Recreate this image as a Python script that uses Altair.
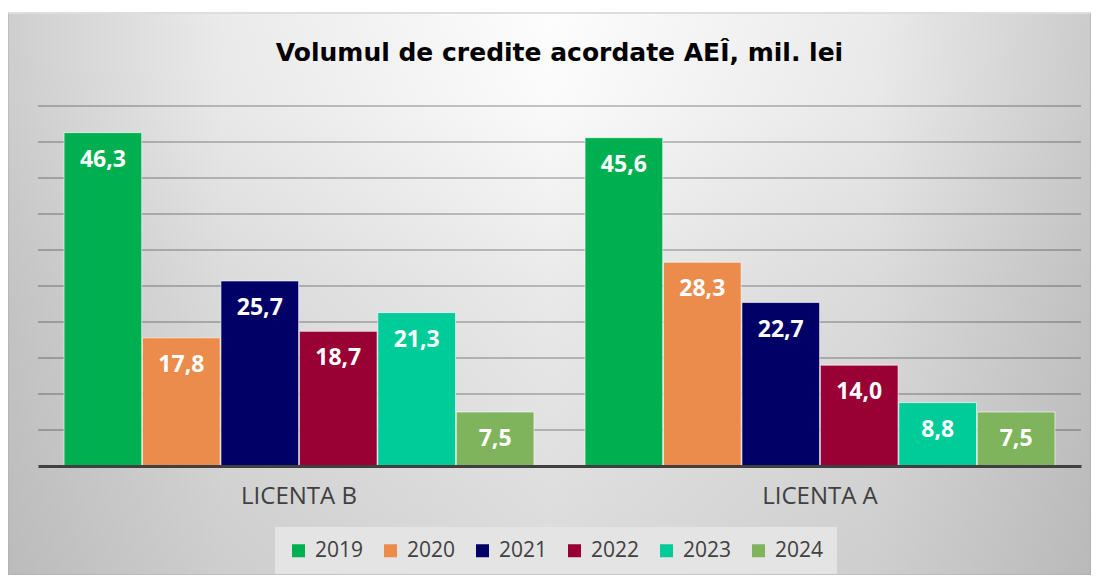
import altair as alt
import pandas as pd

categories = ["LICENTA B", "LICENTA A"]
years = ["2019", "2020", "2021", "2022", "2023", "2024"]
licenta_b = [46.3, 17.8, 25.7, 18.7, 21.3, 7.5]
licenta_a = [45.6, 28.3, 22.7, 14.0, 8.8, 7.5]
colors = ["#00B050", "#EB8C4C", "#000066", "#990033", "#00CC99", "#80B45C"]
grid_values = [5, 10, 15, 20, 25, 30, 35, 40, 45, 50]
title_text = "Volumul de credite acordate AEÎ, mil. lei"

rows = []
for cat, vals in zip(categories, [licenta_b, licenta_a]):
    for yr, v in zip(years, vals):
        rows.append({"cat": cat, "year": yr, "value": v,
                     "label": f"{v:.1f}".replace(".", ",")})
df = pd.DataFrame(rows)

W, H = 1043, 360
FONT = "Open Sans"

one = pd.DataFrame({"a": [0]})

bg_vertical = alt.Chart(one).mark_rect(
    fill={"gradient": "linear", "x1": 0, "y1": 0, "x2": 0, "y2": 1,
          "stops": [{"offset": 0, "color": "#fdfdfd"},
                    {"offset": 0.15, "color": "#fbfbfb"},
                    {"offset": 0.5, "color": "#e9e9e9"},
                    {"offset": 1, "color": "#dadada"}]},
    stroke="#bdbdbd", strokeWidth=1,
).encode(x=alt.value(-30), x2=alt.value(W + 10), y=alt.value(-93), y2=alt.value(H + 109))

bg_horizontal = alt.Chart(one).mark_rect(
    fill={"gradient": "linear", "x1": 0, "y1": 0, "x2": 1, "y2": 0,
          "stops": [{"offset": 0, "color": "rgba(150,150,150,0.45)"},
                    {"offset": 0.2, "color": "rgba(150,150,150,0.18)"},
                    {"offset": 0.5, "color": "rgba(150,150,150,0.0)"},
                    {"offset": 0.8, "color": "rgba(150,150,150,0.18)"},
                    {"offset": 1, "color": "rgba(150,150,150,0.48)"}]},
).encode(x=alt.value(-30), x2=alt.value(W + 10), y=alt.value(-92), y2=alt.value(H + 109))

yscale = alt.Scale(domain=[0, 50])

grid = alt.Chart(pd.DataFrame({"v": grid_values})).mark_rule(
    color="#000000", strokeOpacity=0.22, strokeWidth=2
).encode(y=alt.Y("v:Q", scale=yscale, axis=None))

xenc = alt.X("cat:N", sort=categories,
             scale=alt.Scale(paddingInner=0.098, paddingOuter=0.05),
             axis=alt.Axis(title=None, labelAngle=0, ticks=False, grid=False,
                           labelFontSize=24, labelColor="#404040", labelFont=FONT,
                           labelPadding=18, domainColor="#404040", domainWidth=3,
                           zindex=1))
xoff = alt.XOffset("year:N", sort=years, scale=alt.Scale(paddingInner=0.01))

bars = alt.Chart(df).mark_bar(
    stroke="#ffffff", strokeWidth=1, strokeOpacity=0.6
).encode(
    x=xenc,
    xOffset=xoff,
    y=alt.Y("value:Q", scale=yscale, axis=None),
    color=alt.Color("year:N", sort=years,
                    scale=alt.Scale(domain=years, range=colors),
                    legend=alt.Legend(title=None, orient="none", legendX=237, legendY=421,
                                      direction="horizontal", fillColor="#e4e4e4",
                                      padding=13, symbolType="square", symbolSize=169,
                                      symbolStrokeWidth=0, labelFontSize=21,
                                      labelColor="#404040", labelFont=FONT,
                                      columnPadding=16, labelOffset=6)),
)

labels = alt.Chart(df).mark_text(
    color="white", fontSize=23, fontWeight="bold", font=FONT,
    baseline="middle", align="center", dy=27
).encode(
    x=alt.X("cat:N", sort=categories),
    xOffset=xoff,
    y=alt.Y("value:Q", scale=yscale),
    text="label:N",
)

chart = alt.layer(bg_vertical, bg_horizontal, grid, bars, labels).properties(
    width=W, height=H,
    title=alt.Title(title_text, fontSize=25, font="DejaVu Sans", fontWeight="bold",
                    color="#000000", anchor="middle", offset=-53),
    autosize=alt.AutoSizeParams(type="none"),
    padding={"left": 30, "top": 98, "right": 10, "bottom": 109},
).configure_view(stroke=None)

chart.save("out.html", embed_options={"renderer": "svg", "actions": False})
